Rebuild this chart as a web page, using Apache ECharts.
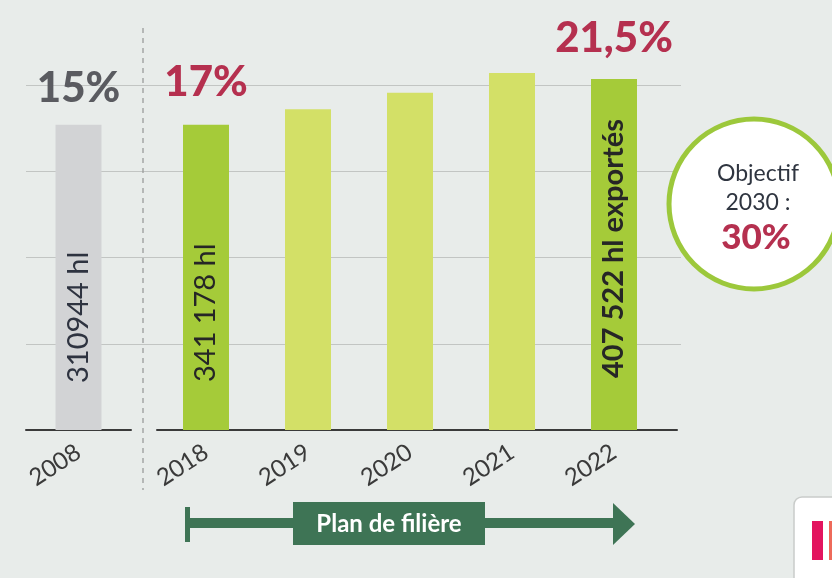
<!DOCTYPE html>
<html><head><meta charset="utf-8">
<script src="https://cdn.jsdelivr.net/npm/echarts@6/dist/echarts.min.js"></script>
<style>html,body{margin:0;padding:0;background:#e8ecea}#c{width:832px;height:578px}</style>
</head><body><div id="c"></div>
<script>
// ---- data ----
const refCategories = ['2008'];
const planCategories = ['2018', '2019', '2020', '2021', '2022'];
const refValues = [3.54];
const planValues = [3.54, 3.72, 3.91, 4.14, 4.07];
const refPct = ['15%'];
const planPct = ['17%', '', '', '', '21,5%'];
const refVolume = ['310944 hl'];
const planVolume = ['341\u202f178 hl', '', '', '', '407 522 hl exportés'];
const planHighlight = [true, false, false, false, true];
const goalLines = ['Objectif', '2030 :', '30%'];
const planLabel = 'Plan de filière';

// ---- styles ----
const BG = '#e8ecea', GRAY_BAR = '#d2d3d5', GREEN = '#a5cb39', LIGHT = '#d3e067';
const CRIMSON = '#b5304f', PCT_GRAY = '#5a5b60', DARK_GREEN = '#3e7455';
const FONT = 'Lato, "Open Sans", sans-serif';
const Y_MAX = 4.5;
const TOP = 42, BOTTOM = 148;

const chart = echarts.init(document.getElementById('c'), null, {renderer: 'canvas'});

const yHidden = (idx) => ({gridIndex: idx, type: 'value', min: 0, max: Y_MAX, show: false,
  splitLine: {show: false}});
const xLabel = {show: true, rotate: 33, margin: 20, fontFamily: FONT, fontSize: 24, color: '#3a3a3a'};

chart.setOption({
  backgroundColor: BG,
  animation: false,
  grid: [
    {left: 26, right: 151, top: TOP, bottom: BOTTOM, outerBoundsMode: 'none'},
    {left: 26, width: 105, top: TOP, bottom: BOTTOM, outerBoundsMode: 'none'},
    {left: 155, width: 510, top: TOP, bottom: BOTTOM, outerBoundsMode: 'none'},
    {left: 157, width: 520, top: TOP, bottom: BOTTOM, outerBoundsMode: 'none'}
  ],
  xAxis: [
    {gridIndex: 0, type: 'category', data: [''], show: false},
    {gridIndex: 1, type: 'category', data: refCategories,
      axisLine: {show: true, lineStyle: {color: '#3a3a3a', width: 2}},
      axisTick: {show: false}, axisLabel: xLabel, splitLine: {show: false}},
    {gridIndex: 2, type: 'category', data: planCategories,
      axisLine: {show: false}, axisTick: {show: false}, axisLabel: xLabel, splitLine: {show: false}},
    {gridIndex: 3, type: 'category', data: [''],
      axisLine: {show: true, lineStyle: {color: '#3a3a3a', width: 2}},
      axisTick: {show: false}, axisLabel: {show: false}, splitLine: {show: false}}
  ],
  yAxis: [
    {gridIndex: 0, type: 'value', min: 0, max: Y_MAX, interval: 1,
      axisLine: {show: false}, axisTick: {show: false}, axisLabel: {show: false},
      splitLine: {show: true, showMinLine: false, showMaxLine: false,
        lineStyle: {color: '#c2c5c3', width: 1.2}}},
    yHidden(1), yHidden(2), yHidden(3)
  ],
  series: [
    {type: 'bar', xAxisIndex: 1, yAxisIndex: 1, data: refValues, barWidth: 46, barGap: '-100%',
      itemStyle: {color: GRAY_BAR},
      label: {show: true, position: 'top', distance: 15, fontFamily: FONT, fontWeight: 900,
        fontSize: 42, color: PCT_GRAY, formatter: p => refPct[p.dataIndex]}},
    {type: 'bar', xAxisIndex: 1, yAxisIndex: 1, data: refValues, barWidth: 46, barGap: '-100%',
      silent: true, itemStyle: {color: 'rgba(0,0,0,0)'},
      label: {show: true, position: 'insideBottom', rotate: 90, align: 'left', verticalAlign: 'middle',
        distance: 47, fontFamily: FONT, fontSize: 29, color: '#2e3340',
        formatter: p => refVolume[p.dataIndex]}},
    {type: 'bar', xAxisIndex: 2, yAxisIndex: 2, barWidth: 46, barGap: '-100%',
      data: planValues.map((v, i) => ({value: v,
        itemStyle: {color: planHighlight[i] ? GREEN : LIGHT},
        label: {distance: i === 0 ? 21 : 20}})),
      label: {show: true, position: 'top', fontFamily: FONT, fontWeight: 900, fontSize: 42,
        color: CRIMSON, formatter: p => planPct[p.dataIndex]}},
    {type: 'bar', xAxisIndex: 2, yAxisIndex: 2, barWidth: 46, barGap: '-100%', silent: true,
      itemStyle: {color: 'rgba(0,0,0,0)'},
      data: planValues.map((v, i) => ({value: v,
        label: i === 4 ? {fontWeight: 'bold', fontSize: 29, distance: 52} : {}})),
      label: {show: true, position: 'insideBottom', rotate: 90, align: 'left', verticalAlign: 'middle',
        distance: 48, fontFamily: FONT, fontSize: 29, color: '#262626',
        formatter: p => planVolume[p.dataIndex]}}
  ],
  graphic: [
    {type: 'line', z: 5, shape: {x1: 143, y1: 28, x2: 143, y2: 490},
      style: {stroke: '#9a9c9b', lineWidth: 1.3, lineDash: [5, 5]}},
    // goal circle
    {type: 'circle', z: 5, shape: {cx: 754, cy: 204, r: 85},
      style: {fill: '#ffffff', stroke: '#9cc83b', lineWidth: 5}},
    {type: 'text', z: 6, x: 758, y: 174, style: {text: goalLines[0], fontFamily: FONT, fontSize: 23,
      fill: '#2f3540', align: 'center', verticalAlign: 'middle'}},
    {type: 'text', z: 6, x: 758, y: 203, style: {text: goalLines[1], fontFamily: FONT, fontSize: 23,
      fill: '#2f3540', align: 'center', verticalAlign: 'middle'}},
    {type: 'text', z: 6, x: 756, y: 238, style: {text: goalLines[2], fontFamily: FONT, fontSize: 35,
      fontWeight: 900, fill: CRIMSON, align: 'center', verticalAlign: 'middle'}},
    // plan arrow
    {type: 'rect', z: 5, shape: {x: 185, y: 507, width: 5, height: 35}, style: {fill: DARK_GREEN}},
    {type: 'rect', z: 5, shape: {x: 185, y: 518, width: 432, height: 10}, style: {fill: DARK_GREEN}},
    {type: 'polygon', z: 5, shape: {points: [[613, 503], [635, 524], [613, 545]]}, style: {fill: DARK_GREEN}},
    {type: 'rect', z: 5, shape: {x: 293, y: 502, width: 192, height: 43}, style: {fill: DARK_GREEN}},
    {type: 'text', z: 6, x: 389, y: 524, style: {text: planLabel, fontFamily: FONT, fontSize: 24,
      fontWeight: 'bold', fill: '#ffffff', align: 'center', verticalAlign: 'middle'}},
    // logo fragment bottom right
    {type: 'rect', z: 5, shape: {x: 794, y: 497, width: 60, height: 100, r: 8},
      style: {fill: '#ffffff', stroke: '#c9ccca', lineWidth: 1.5}},
    {type: 'rect', z: 6, shape: {x: 812, y: 521, width: 11, height: 39}, style: {fill: '#e3145f'}},
    {type: 'rect', z: 6, shape: {x: 829, y: 521, width: 4, height: 39}, style: {fill: '#ee6a5a'}}
  ]
});
</script>
</body></html>
